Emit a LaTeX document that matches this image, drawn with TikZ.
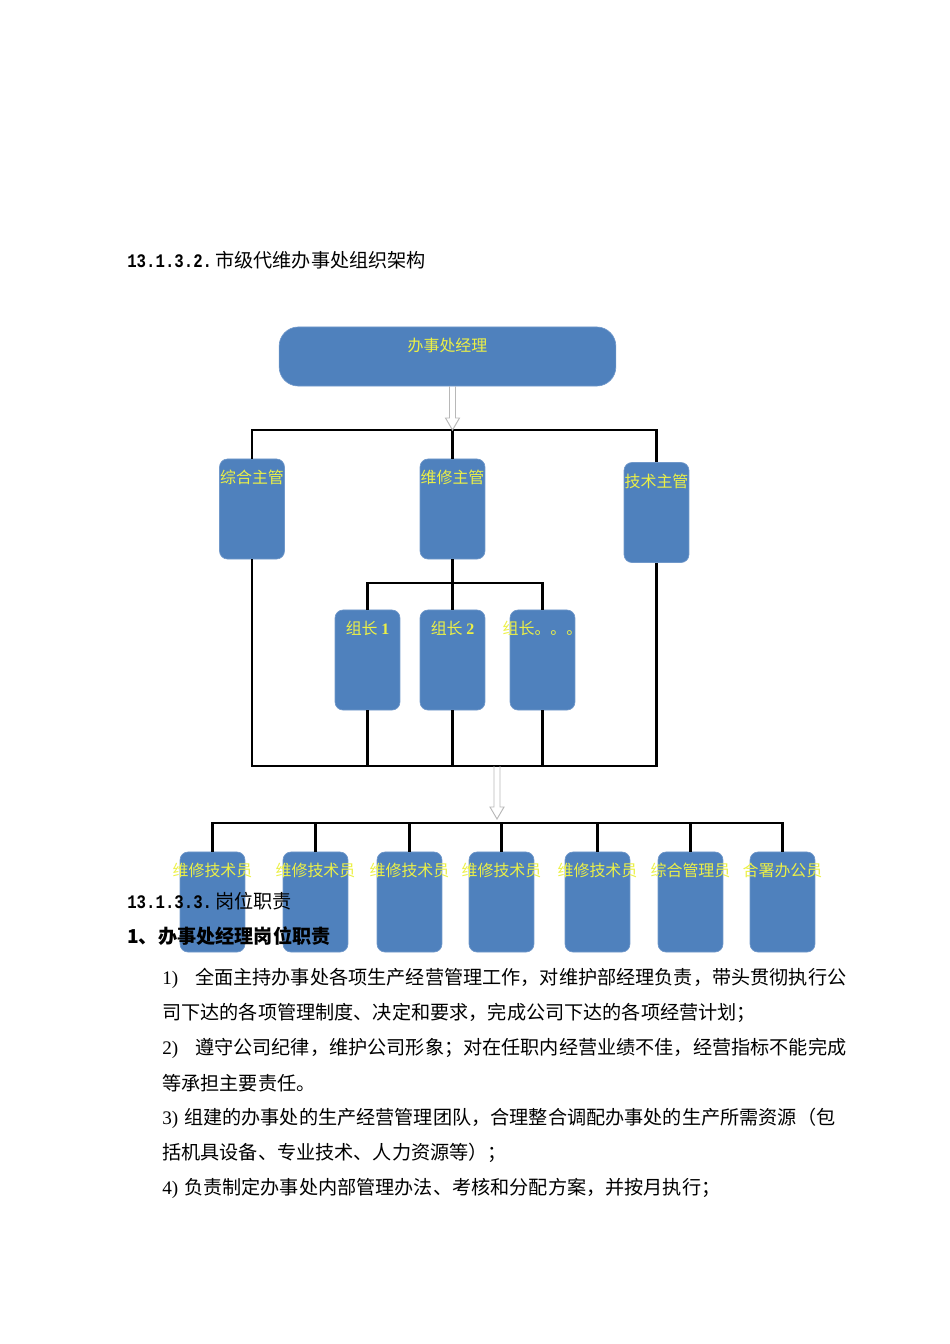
\documentclass[tikz,border=0pt]{standalone}
\usepackage{fontspec}
\setmainfont{Liberation Serif}
\newfontfamily\cjk{Noto Sans CJK SC}
\newfontfamily\numfont[FakeStretch=0.82]{Liberation Mono}
\usepackage{tikz}
\usetikzlibrary{calc}
\definecolor{boxblue}{RGB}{79,129,189}
\definecolor{boxedge}{RGB}{112,152,202}
\definecolor{lbltext}{RGB}{236,240,70}

\begin{document}
\begin{tikzpicture}[x=0.6266pt, y=-0.6266pt,
  box/.style={rectangle, rounded corners=5pt, draw=boxedge, line width=0.4pt, fill=boxblue,
    minimum width=40.7pt, minimum height=62.7pt, inner sep=0pt},
  lbl/.style={anchor=north, inner sep=0pt, yshift=-7pt, text=lbltext, font=\cjk\fontsize{10}{12}\selectfont},
  link/.style={line width=1.3pt},
  hollow/.style={draw=black!28, line width=0.6pt},
  body/.style={anchor=west, inner sep=0pt, font=\cjk\fontsize{12}{14}\selectfont}]
  \useasboundingbox (0,0) rectangle (950,1344);

  % top of the chart
  \node[box, rounded corners=12pt, minimum width=211pt, minimum height=37pt,
    label={[lbl]north:办事处经理}] (boss) at (447.5,356.5) {};
  \node[box, label={[lbl]north:综合主管}] (a) at (252,509) {};
  \node[box, label={[lbl]north:维修主管}] (b) at (452.5,509) {};
  \node[box, label={[lbl]north:技术主管}] (c) at (656.5,512.5) {};
  \node[box, label={[lbl]north:组长 {\rmfamily\bfseries 1}}] (g1) at (367.5,660) {};
  \node[box, label={[lbl]north:组长 {\rmfamily\bfseries 2}}] (g2) at (452.5,660) {};
  \node[box, label={[lbl]north:组长。。。}] (g3) at (542.5,660) {};

  \coordinate (t) at (452.5,430);
  \coordinate (s1) at (boss.south -| t);
  \coordinate (gt) at (452.5,583);
  \coordinate (bb) at (497,766);
  \coordinate (tip) at (497,819);
  \coordinate (bt) at (497,823);

  \draw[link] (a.north) |- (t) -| (c.north);
  \draw[link] (b.north) -- (t);
  \draw[link] (b.south) -- (g2.north);
  \draw[link] (g1.north) |- (gt) -| (g3.north);
  \draw[link] (a.south) |- (bb) -| (c.south);
  \foreach \g in {g1,g2,g3}
    \draw[link] (\g.south) -- (\g.south |- bb);

  % hollow arrows
  \foreach \p/\q in {s1/t, bb/tip}
    \draw[hollow] ($(\p)+(-3,0)$) -- ($(\q)+(-3,-12)$) -- ($(\q)+(-7,-12)$) -- (\q)
      -- ($(\q)+(7,-12)$) -- ($(\q)+(3,-12)$) -- ($(\p)+(3,0)$);

  % staff row
  \foreach \x/\t [count=\i] in {212.5/维修技术员, 315.5/维修技术员, 409.5/维修技术员,
      501.5/维修技术员, 597.5/维修技术员, 690.5/综合管理员, 782.5/合署办公员}
    \node[box, label={[lbl]north:\t}] (w\i) at (\x,902) {};
  \draw[link] (w1.north) |- (bt) -| (w7.north);
  \foreach \i in {2,...,6}
    \draw[link] (w\i.north) -- (w\i.north |- bt);

  % text of the page
  \node[body] (h1) at (127,260) {{\numfont\bfseries 13.1.3.2.}\hspace{2pt}市级代维办事处组织架构};
  \node[body] (h2) at (127,901) {{\numfont\bfseries 13.1.3.3.}\hspace{2pt}岗位职责};
  \node[body, font=\cjk\bfseries\fontsize{12}{14}\selectfont] (h3) at (127,936) {1、办事处经理岗位职责};
  \node[body] (l1) at (162,978) {{\rmfamily 1)}\hspace{10.6pt}全面主持办事处各项生产经营管理工作，对维护部经理负责，带头贯彻执行公};
  \node[body] (l2) at (162,1013) {司下达的各项管理制度、决定和要求，完成公司下达的各项经营计划；};
  \node[body] (l3) at (162,1048) {{\rmfamily 2)}\hspace{10.6pt}遵守公司纪律，维护公司形象；对在任职内经营业绩不佳，经营指标不能完成};
  \node[body] (l4) at (162,1083) {等承担主要责任。};
  \node[body] (l5) at (162,1118) {{\rmfamily 3)}\hspace{3.7pt}组建的办事处的生产经营管理团队，合理整合调配办事处的生产所需资源（包};
  \node[body] (l6) at (162,1153) {括机具设备、专业技术、人力资源等）；};
  \node[body] (l7) at (162,1188) {{\rmfamily 4)}\hspace{3.7pt}负责制定办事处内部管理办法、考核和分配方案，并按月执行；};
\end{tikzpicture}
\end{document}
